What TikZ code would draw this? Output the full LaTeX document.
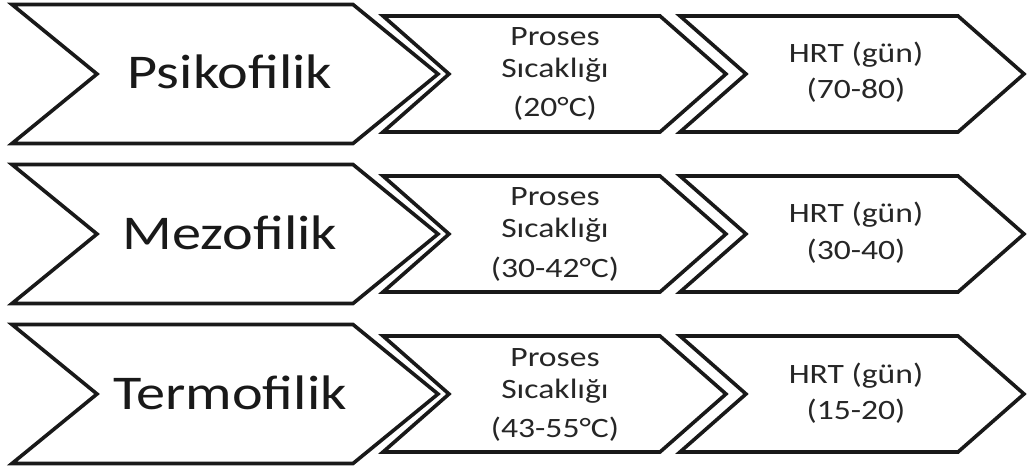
\documentclass[tikz,border=0pt]{standalone}
\usepackage{fontspec}
\newfontfamily\titlefont[FakeStretch=1.2]{Carlito}
\begin{document}
\begin{tikzpicture}[x=1pt,y=-1pt,
  chev/.style={draw=black!90,fill=white,line width=3.6pt,line join=miter},
  bigtxt/.style={font=\titlefont\fontsize{48.5}{56}\selectfont,text=black!90,inner sep=0pt,anchor=base},
  smalltxt/.style={font=\titlefont\fontsize{28}{32}\selectfont,text=black!85,inner sep=0pt,anchor=base}]
\useasboundingbox (0,0) rectangle (1027,470);
% chevron outline: left edge, right edge, point depth, centre line, half height
\newcommand\chevronshape[5]{%
  \draw[chev] (#1,#4-#5) -- (#2,#4-#5) -- (#2+#3,#4) -- (#2,#4+#5)
    -- (#1,#4+#5) -- (#1+#3,#4) -- cycle;}
\foreach \yc in {74,234,394}{
  \chevronshape{12}{353}{85}{\yc}{69.5}
  \chevronshape{383}{660}{66}{\yc}{58}
  \chevronshape{680}{958}{66}{\yc}{58}
}
% row 1
\node[bigtxt] (t1) at (230,74+15) {Psikofilik};
\node[smalltxt] (p1a) at (555,74-28) {Proses};
\node[smalltxt] (p1b) at (555,74+4) {Sıcaklığı};
\node[smalltxt] (p1c) at (555,74+43) {(20°C)};
\node[smalltxt] (h1a) at (856,74-11) {HRT (gün)};
\node[smalltxt] (h1b) at (856,74+25) {(70-80)};
% row 2
\node[bigtxt] (t2) at (230,234+15) {Mezofilik};
\node[smalltxt] (p2a) at (555,234-28) {Proses};
\node[smalltxt] (p2b) at (555,234+4) {Sıcaklığı};
\node[smalltxt] (p2c) at (555,234+43) {(30-42°C)};
\node[smalltxt] (h2a) at (856,234-11) {HRT (gün)};
\node[smalltxt] (h2b) at (856,234+25) {(30-40)};
% row 3
\node[bigtxt] (t3) at (230,394+15) {Termofilik};
\node[smalltxt] (p3a) at (555,394-28) {Proses};
\node[smalltxt] (p3b) at (555,394+4) {Sıcaklığı};
\node[smalltxt] (p3c) at (555,394+43) {(43-55°C)};
\node[smalltxt] (h3a) at (856,394-11) {HRT (gün)};
\node[smalltxt] (h3b) at (856,394+25) {(15-20)};
\end{tikzpicture}
\end{document}
